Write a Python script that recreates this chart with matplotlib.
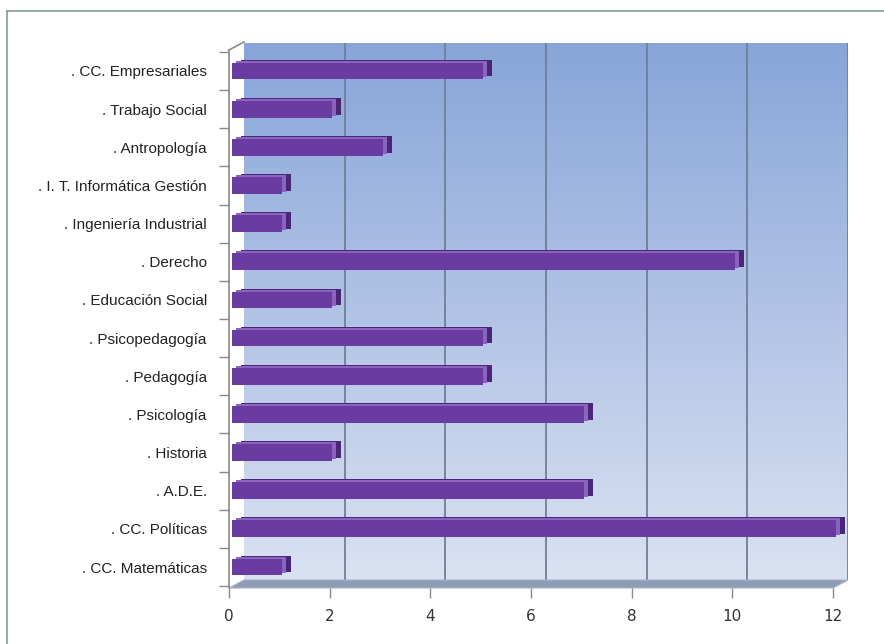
import numpy as np
import matplotlib.pyplot as plt
from matplotlib.patches import Polygon
from matplotlib.transforms import offset_copy

carreras = [". CC. Empresariales", ". Trabajo Social", ". Antropología",
            ". I. T. Informática Gestión", ". Ingeniería Industrial", ". Derecho",
            ". Educación Social", ". Psicopedagogía", ". Pedagogía", ". Psicología",
            ". Historia", ". A.D.E.", ". CC. Políticas", ". CC. Matemáticas"]
alumnos = [5, 2, 3, 1, 1, 10, 2, 5, 5, 7, 2, 7, 12, 1]
xticks = [0, 2, 4, 6, 8, 10, 12]

W, H = 884, 644
DX, DY = 15, 8  # depth offset in pixels


def fig_rect(left, top, right, bottom):
    return [left / W, 1 - bottom / H, (right - left) / W, (bottom - top) / H]


fig = plt.figure(figsize=(W / 100, H / 100), dpi=100)
fig.patch.set_facecolor("white")

# outer frame (only left and top visible)
fig.add_artist(plt.Line2D([7 / W, 7 / W], [0, 1 - 11 / H], color="#7f9c94", lw=1.2))
fig.add_artist(plt.Line2D([7 / W, 1], [1 - 11 / H, 1 - 11 / H], color="#7f9c94", lw=1.2))

# back wall with gradient
wall = fig.add_axes(fig_rect(229 + DX, 52 - DY - 1, 833 + DX, 588 - DY), zorder=0)
grad = np.linspace(0, 1, 256).reshape(-1, 1)
top_c = np.array([136, 165, 217]) / 255
bot_c = np.array([218, 226, 242]) / 255
img = top_c + (bot_c - top_c) * grad
wall.imshow(img[:, None, :].repeat(2, axis=1), aspect="auto",
            extent=[0, 12, 0, 1], origin="upper", zorder=0)
wall.set_xlim(0, 12)
wall.set_ylim(0, 1)
for t in xticks[1:]:
    wall.axvline(t, color="#6f7f95", lw=1.3, zorder=1)
wall.axis("off")

# front axes
ax = fig.add_axes(fig_rect(229, 50, 833, 588), zorder=2)
ax.patch.set_alpha(0)
ax.set_xlim(0, 12)
y = np.arange(len(carreras))
ax.set_ylim(len(carreras) - 0.45, -0.55)

# floor
to_px = ax.transData
p0 = to_px.transform((0, len(carreras) - 0.45))
p1 = to_px.transform((12, len(carreras) - 0.45))
inv = fig.transFigure.inverted()
floor_px = [p0, p1, p1 + [DX, DY], p0 + [DX, DY]]
floor = Polygon(inv.transform(floor_px), closed=True, transform=fig.transFigure,
                facecolor="#8e9cb6", edgecolor="#a9b3c6", lw=0.8, zorder=1)
fig.add_artist(floor)

# left side wall edge
lt = to_px.transform((0, -0.55))
fig.add_artist(plt.Line2D(*inv.transform([lt, lt + [DX, DY]]).T, color="#8a8a8a", lw=1.2))

# bars: depth copy, top bevel, then front face
bh = 0.44
back_tr = offset_copy(ax.transData, fig=fig, x=9, y=3, units="dots")
ax.barh(y, alumnos, height=bh, left=0.05, color="#4a2776", transform=back_tr,
        zorder=3, clip_on=False)
top_tr = offset_copy(ax.transData, fig=fig, x=4, y=2, units="dots")
ax.barh(y, alumnos, height=bh, left=0.05, color="#8a64bf", transform=top_tr,
        zorder=3, clip_on=False)
ax.barh(y, alumnos, height=bh, left=0.05, color="#6a3ba0", zorder=4, clip_on=False)

# axes styling
for s in ["top", "right", "bottom"]:
    ax.spines[s].set_visible(False)
ax.spines["left"].set_color("#8a8a8a")
ax.spines["left"].set_linewidth(1.2)
ax.set_yticks(y)
ax.set_yticklabels(carreras, fontsize=11, family="Liberation Sans", color="#222222")
ax.set_yticks(np.arange(len(carreras) + 1) - 0.5, minor=True)
ax.tick_params(axis="y", which="major", length=0, pad=16)
ax.tick_params(axis="y", which="minor", length=7, color="#8a8a8a", width=1)
ax.set_xticks(xticks)
ax.set_xticklabels([str(t) for t in xticks], fontsize=11, family="DejaVu Sans", color="#333333")
ax.tick_params(axis="x", length=7, color="#8a8a8a", width=1, pad=8)

fig.savefig("out.png", dpi=100)
